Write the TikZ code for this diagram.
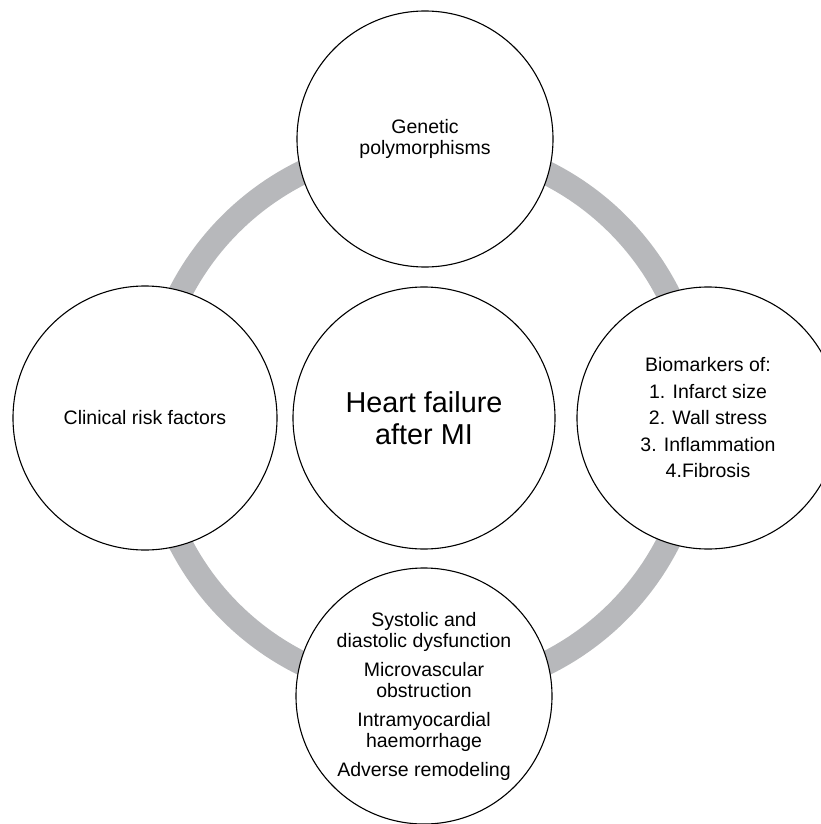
\documentclass[tikz,border=0pt]{standalone}
\usepackage{fontspec}
\setmainfont{Liberation Sans}
\usepackage{tikz}
\definecolor{ringgray}{RGB}{183,184,187}

\begin{document}
\begin{tikzpicture}[x=1pt, y=-1pt,
    bubble/.style={circle, draw=black, line width=1.1pt, fill=white, minimum size=260pt, inner sep=0pt, align=center, font=\fontsize{19.5}{21.5}\selectfont},
    hub/.style={bubble, minimum size=262pt, font=\fontsize{28.8}{32}\selectfont}]
    \useasboundingbox (0,0) rectangle (821,824);
    \coordinate (mid) at (424,418);
    \draw[ringgray, line width=24pt] (mid) circle (274pt);

    \node[hub] (hf) at (mid) {Heart failure\\after MI};
    \node[bubble, minimum size=256pt] (gen) at (425,139) {Genetic\\polymorphisms};
    \node[bubble, minimum size=264pt] (clin) at (145,418) {Clinical risk factors};
    \node[bubble, minimum size=262pt] (bio) at (708,418) {Biomarkers of:\\[5pt] 1. Infarct size\\[5pt] 2. Wall stress\\[5pt] 3. Inflammation\\[5pt] 4.Fibrosis};
    \node[bubble, minimum size=256pt] (func) at (424,696) {Systolic and\\diastolic dysfunction\\[7pt] Microvascular\\obstruction\\[7pt] Intramyocardial\\haemorrhage\\[7pt] Adverse remodeling};

    %\node at (424,20) (x) {title};
\end{tikzpicture}
\end{document}
